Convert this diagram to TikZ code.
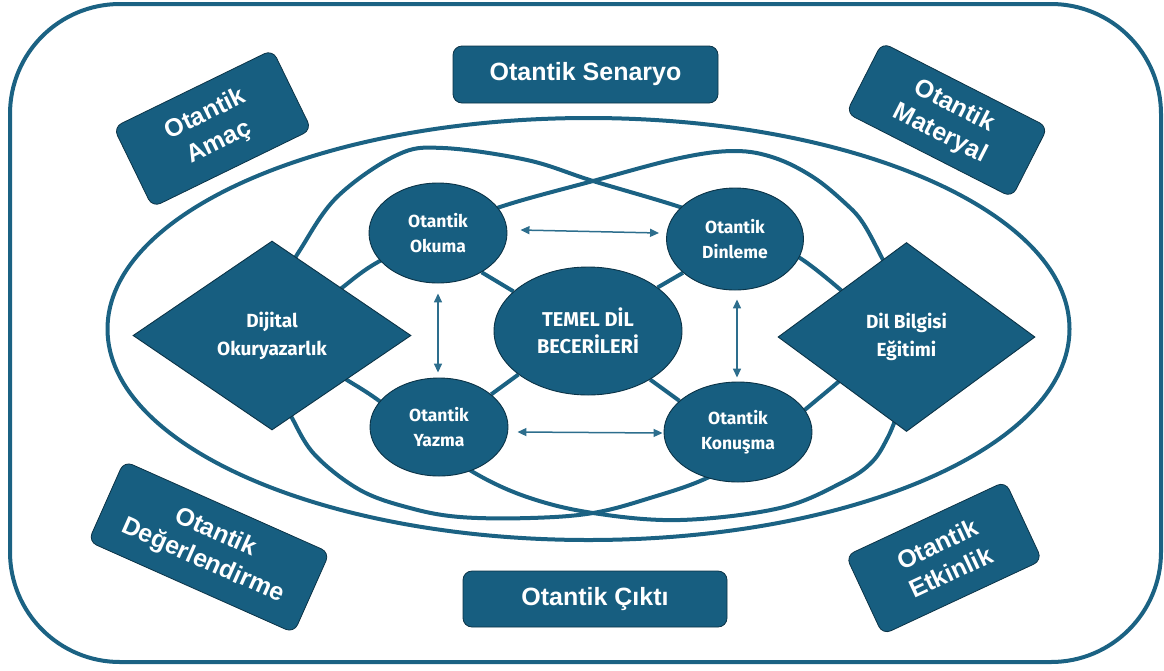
\documentclass[tikz,border=0pt]{standalone}
\usepackage{fontspec}
\setmainfont{Liberation Sans}
\newfontfamily\firaf{Fira Sans}
\usetikzlibrary{shapes.geometric,arrows.meta,backgrounds}
\definecolor{mainblue}{HTML}{175E80}
\definecolor{lineblue}{HTML}{1B6283}
\definecolor{edgedark}{HTML}{0B3347}
\definecolor{arrowblue}{HTML}{2D6E8D}
\begin{document}
\begin{tikzpicture}[x=1pt,y=-1pt,
  outerbox/.style={rectangle, rounded corners=9pt, fill=mainblue, draw=edgedark, line width=0.8pt, text=white, font=\fontsize{25}{31}\selectfont\bfseries, align=center, inner sep=0pt},
  skill/.style={ellipse, fill=mainblue, draw=edgedark, line width=0.9pt, text=white, font=\firaf\fontsize{17.5}{25.5}\selectfont\bfseries, align=center, inner sep=0pt},
  core/.style={skill, font=\firaf\fontsize{20}{27}\selectfont\bfseries},
  rhomb/.style={diamond, fill=mainblue, draw=edgedark, line width=0.9pt, text=white, font=\firaf\fontsize{19}{28}\selectfont\bfseries, align=center, inner sep=0pt},
  band/.style={draw=lineblue, line width=4pt},
  link/.style={draw=lineblue, line width=4pt},
  twoway/.style={draw=arrowblue, line width=1.5pt, {Triangle[length=9pt,width=8pt]}-{Triangle[length=9pt,width=8pt]}},
]
\useasboundingbox (0,0) rectangle (1164,670);

% central nodes
\node[rhomb, minimum width=278pt, minimum height=189pt] (dl) at (272,335.5) {Dijital\\Okuryazarlık};
\node[rhomb, minimum width=257pt, minimum height=189pt] (dr) at (906.5,337) {Dil Bilgisi\\Eğitimi};
\node[core, minimum width=188pt, minimum height=128pt] (te) at (588,331) {TEMEL DİL\\BECERİLERİ};
\node[skill, minimum width=138pt, minimum height=100pt] (ok) at (438,233) {Otantik\\Okuma};
\node[skill, minimum width=137pt, minimum height=102pt] (di) at (735,239) {Otantik\\Dinleme};
\node[skill, minimum width=138pt, minimum height=98pt] (ya) at (439,427) {Otantik\\Yazma};
\node[skill, minimum width=148pt, minimum height=100pt] (ko) at (738,432) {Otantik\\Konuşma};

% outer boxes
\node[outerbox, minimum width=265pt, minimum height=57pt] (sc) at (585.5,74.5) {Otantik Senaryo};
\node[outerbox, minimum width=264pt, minimum height=56pt] (ci) at (595,599) {Otantik Çıktı};
\node[outerbox, minimum width=177pt, minimum height=89pt, rotate=26] (am) at (212.5,128.5) {Otantik\\Amaç};
\node[outerbox, minimum width=186pt, minimum height=79pt, rotate=-27] (ma) at (947,120) {Otantik\\Materyal};
\node[outerbox, minimum width=225pt, minimum height=88pt, rotate=-24] (de) at (209,547) {Otantik\\Değerlendirme};
\node[outerbox, minimum width=176pt, minimum height=87pt, rotate=25] (et) at (944,558) {Otantik\\Etkinlik};

\coordinate (topx) at (593,181);
\coordinate (botx) at (593,513);

\begin{scope}[on background layer]
  \draw[band, rounded corners=110pt] (10,4) rectangle (1161,662);
  \draw[band] (588.5,329) ellipse [x radius=481, y radius=211];
  % upper crossing bands
  \draw[band] plot[smooth, tension=0.6] coordinates {(286,275) (300,250) (337,197) (397,155) (443,148) (527,160) (topx) (680,207) (745,231) (800,258) (850,298)};
  \draw[band] plot[smooth, tension=0.6] coordinates {(326,302) (343,287) (378,262) (440,232) (500,207) (topx) (680,158) (735,151) (775,158) (813,177) (845,203) (863,223) (882,258) (890,275)};
  % lower crossing bands
  \draw[band] plot[smooth, tension=0.6] coordinates {(284,400) (292,418) (315,455) (360,490) (410,508) (460,517) (530,518) (botx) (650,498) (707,478) (760,447) (807,408) (837,383) (848,373)};
  \draw[band] plot[smooth, tension=0.6] coordinates {(333,371) (347,380) (378,400) (430,440) (473,472) (527,497) (botx) (680,520) (780,508) (843,482) (872,462) (888,437) (897,415)};
  % links to the core
  \draw[link] (ok.-42) -- (te.152);
  \draw[link] (di.213) -- (te.32);
  \draw[link] (ya.32) -- (te.212);
  \draw[link] (ko.152) -- (te.-38);
\end{scope}

% two-way arrows
\draw[twoway] ([shift={(13,-3)}]ok.east) -- ([shift={(-7,-6)}]di.west);
\draw[twoway] ([shift={(9,5)}]ya.east) -- ([shift={(-1,1)}]ko.west);
\draw[twoway] ([shift={(0,10)}]ok.south) -- ([shift={(-1,-5)}]ya.north);
\draw[twoway] ([shift={(2,9)}]di.south) -- ([shift={(-1,-4)}]ko.north);
\end{tikzpicture}
\end{document}
